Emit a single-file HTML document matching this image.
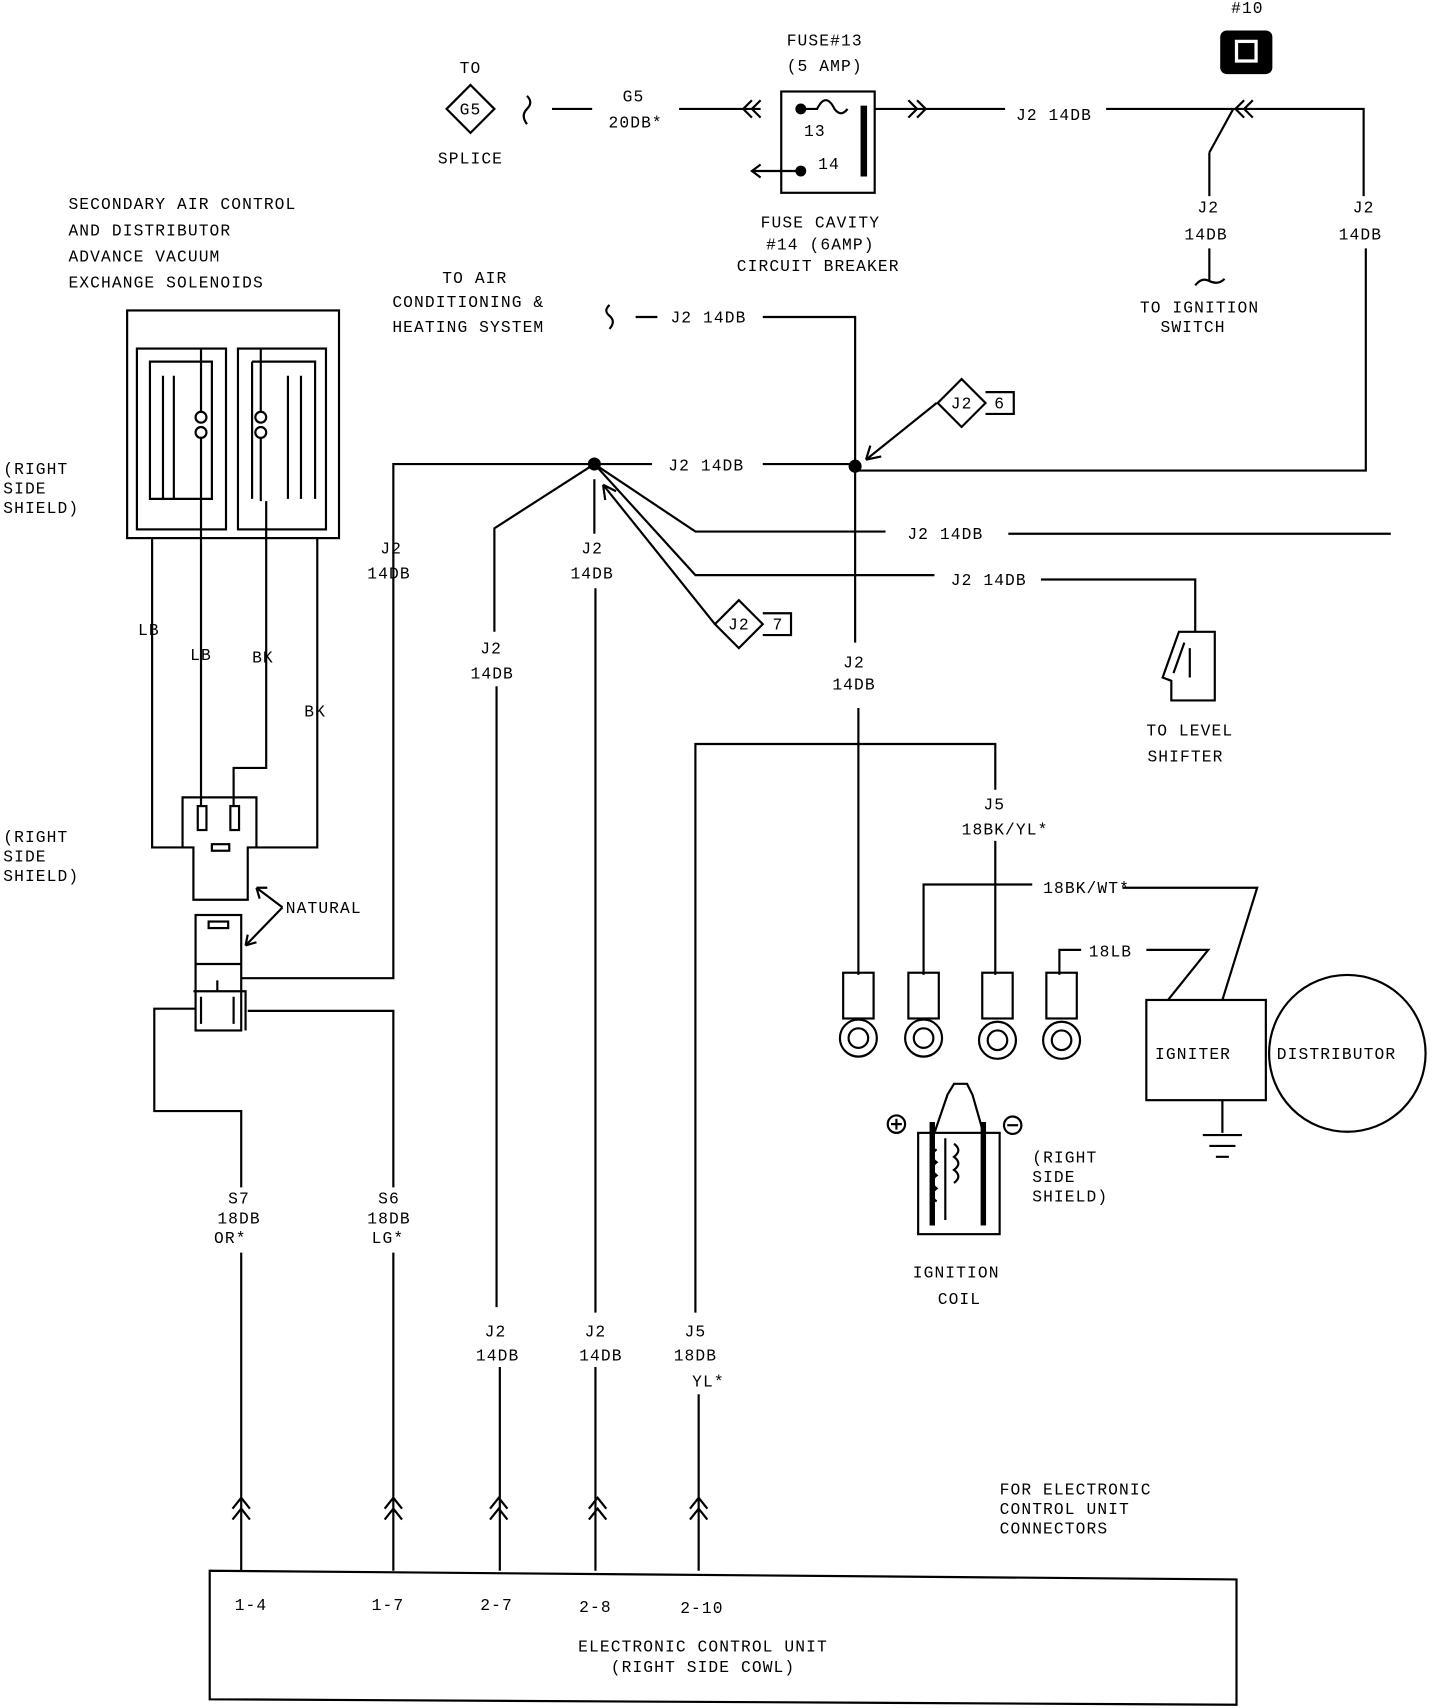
<!DOCTYPE html>
<html><head><meta charset="utf-8"><style>
html,body{margin:0;padding:0;background:#fff}
svg{display:block}
text{font-family:"Liberation Mono","DejaVu Sans Mono",monospace;font-size:15px;fill:#000;letter-spacing:1px}
.m{text-anchor:middle}
</style></head><body>
<svg width="1456" height="1708" viewBox="0 0 1340 1568" preserveAspectRatio="none" xmlns="http://www.w3.org/2000/svg">
<g fill="none" stroke="#000" stroke-width="2">
<path d="M485 88 q6 6 0 12 q-6 6 0 14"/>
<path d="M508 100 H545 M625 100 H700"/>
<path d="M692 92 l-8 8 8 8 M700 92 l-8 8 8 8"/>
<rect x="719" y="84" width="86" height="93"/>
<path d="M737 100 H752 q8 -16 16 0 q6 8 12 0"/>
<path d="M795 97 V162" stroke-width="6"/>
<path d="M737 157 H692 M700 151 l-8 6 8 6"/>
<path d="M805 100 H925 M836 92 l8 8 -8 8 M844 92 l8 8 -8 8"/>
<path d="M1018 100 H1255 V180 M1257 228 V432 H787"/>
<path d="M1145 92 l-8 8 8 8 M1153 92 l-8 8 8 8"/>
<path d="M1113 140 L1135 100 M1113 140 V180 M1113 228 V258 M1100 262 q6 -8 13 -4 q8 4 14 -2"/>
<rect x="117" y="285" width="195" height="209"/>
<rect x="126" y="320" width="82" height="166"/>
<rect x="219" y="320" width="81" height="166"/>
<path d="M138 332 H195 V458 H138 Z M150 345 V458 M160 345 V458 M232 332 H290 V458 M232 332 V458 M265 345 V458 M277 345 V458"/>
<circle cx="185" cy="383" r="5"/><circle cx="185" cy="397" r="5"/>
<circle cx="240" cy="383" r="5"/><circle cx="240" cy="397" r="5"/>
<path d="M185 320 V378 M185 402 V740 M240 320 V378 M240 402 V460 M245 460 V705 H215 V740"/>
<path d="M140 494 V778 H168 M292 494 V778 H236"/>
<path d="M168 732 H236 V778 H228 V826 H178 V778 H168 Z"/>
<rect x="182" y="740" width="8" height="22"/><rect x="212" y="740" width="8" height="22"/>
<rect x="195" y="775" width="16" height="6"/>
<rect x="180" y="840" width="42" height="106"/>
<rect x="192" y="846" width="18" height="6"/>
<path d="M180 885 H222 M178 910 H226 V946 M185 915 V940 M215 915 V940 M200 900 v10"/>
<path d="M260 833 L236 815 M260 833 L226 868"/>
<path d="M236 815 l10 0 M236 815 l3 10 M226 868 l2 -10 M226 868 l10 -3"/>
<path d="M222 898 H362 V426 H547"/>
<path d="M180 926 H142 V1020 H222 V1090 M228 928 H362 V1090"/>
<path d="M222 1150 V1442 M362 1150 V1442"/>
<path d="M547 426 H600 M702 426 H787 M547 440 V490 M548 540 V1205 M548 1255 V1442"/>
<path d="M547 426 L455 485 V580 M457 630 V1200 M460 1255 V1442"/>
<path d="M547 426 L640 488 H815 M928 490 H1280"/>
<path d="M547 426 L640 528 H860 M958 532 H1100 V580"/>
<path d="M658 573 L555 445 M555 445 l2 14 M555 445 l12 6"/>
<path d="M862 370 L797 422 M797 422 l14 -3 M797 422 l4 -13"/>
<path d="M702 291 H787 V590 M790 650 V895 M561 280 q-6 5 0 10 q6 5 0 12 M585 291 H605"/>
<path d="M1085 580 H1118 V643 H1078 V625 L1070 622 Z M1090 590 L1080 618 M1095 595 V622"/>
<path d="M640 1205 V683 H916 V725 M916 772 V895 M643 1280 V1442"/>
<path d="M850 895 V812 H950 M1033 815 H1157 L1125 918"/>
<path d="M975 895 V872 H995 M1055 872 H1112 L1075 918"/>
<rect x="776" y="893" width="28" height="42"/><rect x="836" y="893" width="28" height="42"/>
<rect x="904" y="893" width="28" height="42"/><rect x="963" y="893" width="28" height="42"/>
<circle cx="790" cy="953" r="17"/><circle cx="790" cy="953" r="9"/>
<circle cx="850" cy="953" r="17"/><circle cx="850" cy="953" r="9"/>
<circle cx="918" cy="955" r="17"/><circle cx="918" cy="955" r="9"/>
<circle cx="977" cy="955" r="17"/><circle cx="977" cy="955" r="9"/>
<rect x="1055" y="918" width="110" height="92"/>
<circle cx="1240" cy="967" r="72"/>
<path d="M1125 1010 V1040 M1107 1042 H1143 M1113 1052 H1137 M1119 1062 H1131"/>
<rect x="845" y="1040" width="75" height="93"/>
<path d="M860 1040 L872 1005 L878 995 L890 995 L895 1005 L905 1040"/>
<path d="M858 1030 V1125 M905 1030 V1125" stroke-width="5"/>
<path d="M862 1055 q-8 6 0 12 q-8 6 0 12 q-8 6 0 12 q-8 6 0 12 M878 1050 q8 6 0 12 q8 6 0 12 q8 6 0 12 M870 1045 V1120"/>
<circle cx="825" cy="1032" r="8"/><path d="M820 1032 H830 M825 1027 V1037"/>
<circle cx="932" cy="1033" r="8"/><path d="M927 1033 H937"/>
<path d="M214 1385 l8 -10 8 10 M214 1395 l8 -10 8 10"/>
<path d="M354 1385 l8 -10 8 10 M354 1395 l8 -10 8 10"/>
<path d="M451 1385 l8 -10 8 10 M451 1395 l8 -10 8 10"/>
<path d="M542 1385 l8 -10 8 10 M542 1395 l8 -10 8 10"/>
<path d="M635 1385 l8 -10 8 10 M635 1395 l8 -10 8 10"/>
<path d="M193 1442 L1138 1450 V1565 L193 1560 Z"/>
<path d="M433 78 L455 100 433 122 411 100 Z"/>
<path d="M885 348 L907 370 885 392 863 370 Z M907 360 H933 V380 H907"/>
<path d="M680 551 L702 573 680 595 658 573 Z M702 563 H728 V583 H702"/>
</g>
<circle cx="547" cy="426" r="6"/><circle cx="787" cy="428" r="6"/>
<circle cx="737" cy="100" r="5"/><circle cx="737" cy="157" r="5"/>
<rect x="1123" y="28" width="48" height="40" rx="6"/>
<rect x="1138" y="38" width="18" height="18" fill="none" stroke="#fff" stroke-width="3"/>
<g>
<text x="1148" y="12" class="m">#10</text>
<text x="433" y="67" class="m">TO</text>
<text x="433" y="105" class="m">G5</text>
<text x="433" y="150" class="m">SPLICE</text>
<text x="583" y="93" class="m">G5</text>
<text x="585" y="117" class="m">20DB*</text>
<text x="759" y="42" class="m">FUSE#13</text>
<text x="759" y="65" class="m">(5 AMP)</text>
<text x="750" y="125" class="m">13</text>
<text x="763" y="155" class="m">14</text>
<text x="970" y="110" class="m">J2 14DB</text>
<text x="1255" y="195" class="m">J2</text><text x="1252" y="220" class="m">14DB</text>
<text x="1112" y="195" class="m">J2</text><text x="1110" y="220" class="m">14DB</text>
<text x="1104" y="287" class="m">TO IGNITION</text>
<text x="1098" y="305" class="m">SWITCH</text>
<text x="755" y="209" class="m">FUSE CAVITY</text>
<text x="755" y="229" class="m">#14 (6AMP)</text>
<text x="753" y="249" class="m">CIRCUIT BREAKER</text>
<text x="63" y="192">SECONDARY AIR CONTROL</text>
<text x="63" y="216">AND DISTRIBUTOR</text>
<text x="63" y="240">ADVANCE VACUUM</text>
<text x="63" y="264">EXCHANGE SOLENOIDS</text>
<text x="3" y="435">(RIGHT</text><text x="3" y="453">SIDE</text><text x="3" y="471">SHIELD)</text>
<text x="3" y="773">(RIGHT</text><text x="3" y="791">SIDE</text><text x="3" y="809">SHIELD)</text>
<text x="137" y="583" class="m">LB</text><text x="185" y="606" class="m">LB</text>
<text x="242" y="608" class="m">BK</text><text x="290" y="658" class="m">BK</text>
<text x="263" y="838">NATURAL</text>
<text x="437" y="260" class="m">TO AIR</text>
<text x="431" y="282" class="m">CONDITIONING &amp;</text>
<text x="431" y="305" class="m">HEATING SYSTEM</text>
<text x="652" y="296" class="m">J2 14DB</text>
<text x="650" y="432" class="m">J2 14DB</text>
<text x="360" y="508" class="m">J2</text><text x="358" y="531" class="m">14DB</text>
<text x="545" y="508" class="m">J2</text><text x="545" y="531" class="m">14DB</text>
<text x="452" y="600" class="m">J2</text><text x="453" y="623" class="m">14DB</text>
<text x="870" y="495" class="m">J2 14DB</text>
<text x="910" y="537" class="m">J2 14DB</text>
<text x="885" y="375" class="m">J2</text><text x="920" y="375" class="m">6</text>
<text x="680" y="578" class="m">J2</text><text x="716" y="578" class="m">7</text>
<text x="786" y="613" class="m">J2</text><text x="786" y="633" class="m">14DB</text>
<text x="1095" y="675" class="m">TO LEVEL</text>
<text x="1091" y="699" class="m">SHIFTER</text>
<text x="915" y="743" class="m">J5</text>
<text x="925" y="766" class="m">18BK/YL*</text>
<text x="1000" y="820" class="m">18BK/WT*</text>
<text x="1022" y="878" class="m">18LB</text>
<text x="1098" y="972" class="m">IGNITER</text>
<text x="1230" y="972" class="m">DISTRIBUTOR</text>
<text x="950" y="1067">(RIGHT</text><text x="950" y="1085">SIDE</text><text x="950" y="1103">SHIELD)</text>
<text x="880" y="1173" class="m">IGNITION</text>
<text x="883" y="1197" class="m">COIL</text>
<text x="220" y="1105" class="m">S7</text><text x="220" y="1123" class="m">18DB</text><text x="212" y="1141" class="m">OR*</text>
<text x="358" y="1105" class="m">S6</text><text x="358" y="1123" class="m">18DB</text><text x="357" y="1141" class="m">LG*</text>
<text x="456" y="1227" class="m">J2</text><text x="458" y="1249" class="m">14DB</text>
<text x="548" y="1227" class="m">J2</text><text x="553" y="1249" class="m">14DB</text>
<text x="640" y="1227" class="m">J5</text><text x="640" y="1249" class="m">18DB</text><text x="652" y="1273" class="m">YL*</text>
<text x="920" y="1372">FOR ELECTRONIC</text>
<text x="920" y="1390">CONTROL UNIT</text>
<text x="920" y="1408">CONNECTORS</text>
<text x="231" y="1478" class="m">1-4</text>
<text x="357" y="1478" class="m">1-7</text>
<text x="457" y="1478" class="m">2-7</text>
<text x="548" y="1480" class="m">2-8</text>
<text x="646" y="1481" class="m">2-10</text>
<text x="647" y="1516" class="m">ELECTRONIC CONTROL UNIT</text>
<text x="647" y="1535" class="m">(RIGHT SIDE COWL)</text>
</g>
</svg>
</body></html>
